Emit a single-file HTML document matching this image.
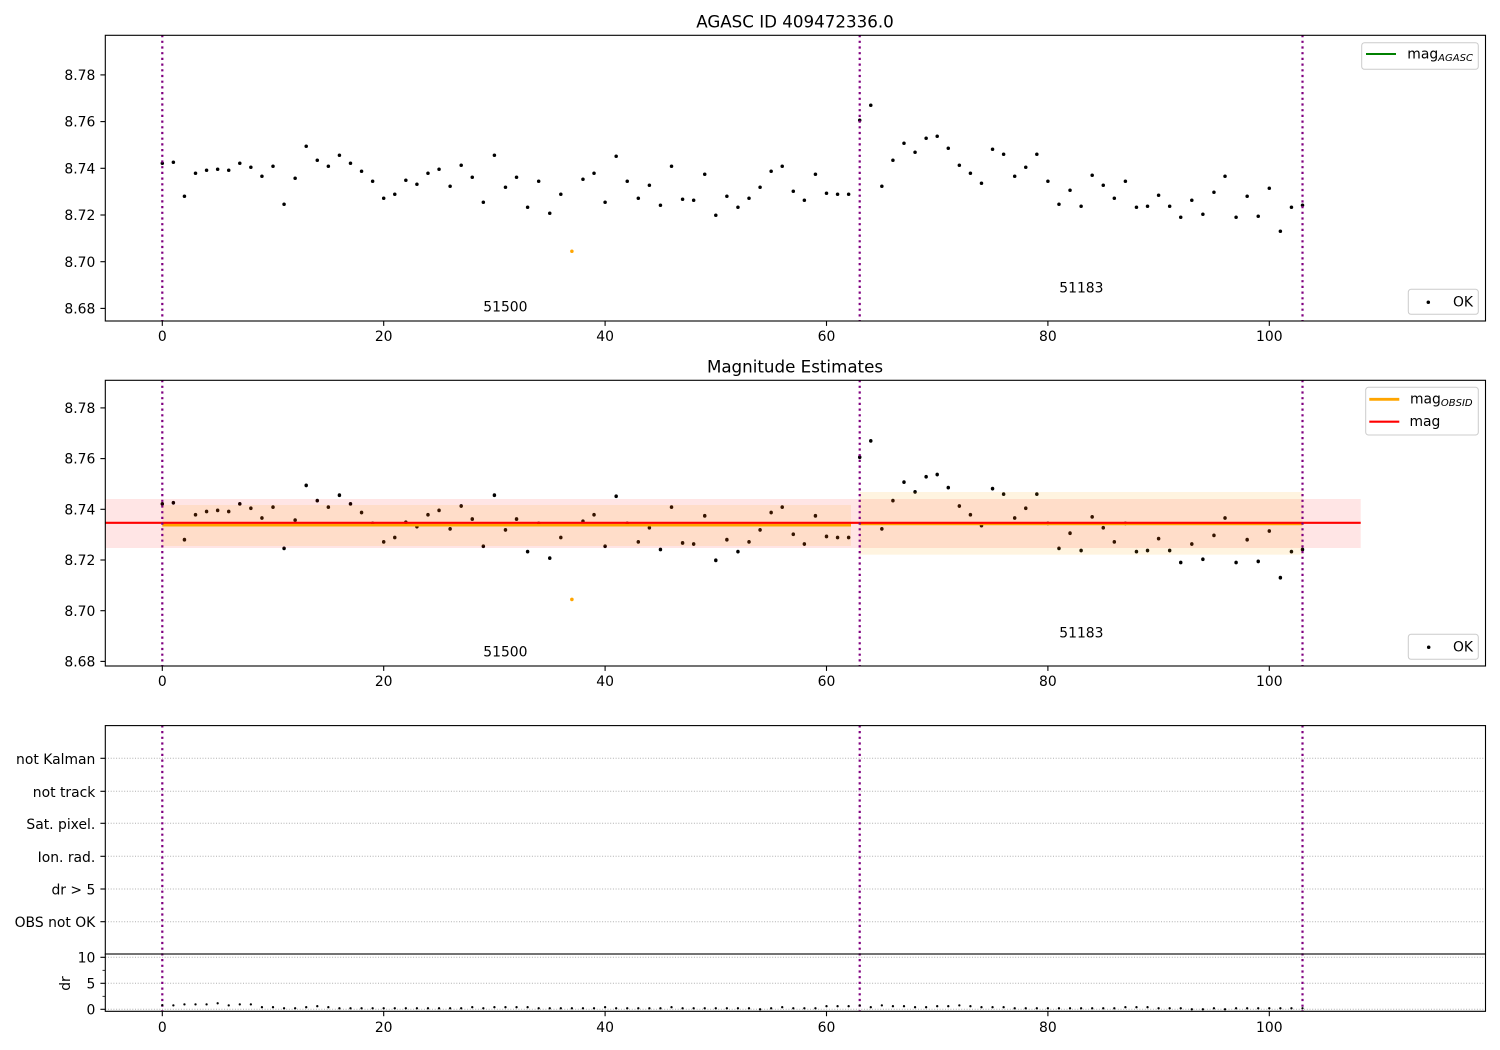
<!DOCTYPE html>
<html>
<head>
<meta charset="utf-8">
<style>
html,body{margin:0;padding:0;background:#fff;}
svg{display:block;}
text{font-family:"DejaVu Sans","Liberation Sans",sans-serif;fill:#000;}
.t{font-size:13.9px;}
.r{text-anchor:end;}
.m{text-anchor:middle;}
</style>
</head>
<body>
<svg width="1500" height="1050" viewBox="0 0 1500 1050" xmlns="http://www.w3.org/2000/svg">
<rect x="0" y="0" width="1500" height="1050" fill="#fff"/>
<defs>
<g id="d1" fill="#000">
<circle cx="162.3" cy="163.3" r="1.75"/><circle cx="173.37" cy="162.3" r="1.75"/><circle cx="184.44" cy="196.3" r="1.75"/><circle cx="195.51" cy="173.3" r="1.75"/><circle cx="206.58" cy="170.3" r="1.75"/><circle cx="217.65" cy="169.3" r="1.75"/><circle cx="228.72" cy="170.3" r="1.75"/><circle cx="239.79" cy="163.3" r="1.75"/><circle cx="250.86" cy="167.3" r="1.75"/><circle cx="261.93" cy="176.3" r="1.75"/>
<circle cx="273.0" cy="166.3" r="1.75"/><circle cx="284.07" cy="204.3" r="1.75"/><circle cx="295.14" cy="178.3" r="1.75"/><circle cx="306.21" cy="146.3" r="1.75"/><circle cx="317.28" cy="160.3" r="1.75"/><circle cx="328.35" cy="166.3" r="1.75"/><circle cx="339.42" cy="155.3" r="1.75"/><circle cx="350.49" cy="163.3" r="1.75"/><circle cx="361.56" cy="171.3" r="1.75"/><circle cx="372.63" cy="181.3" r="1.75"/>
<circle cx="383.7" cy="198.3" r="1.75"/><circle cx="394.77" cy="194.3" r="1.75"/><circle cx="405.84" cy="180.3" r="1.75"/><circle cx="416.91" cy="184.3" r="1.75"/><circle cx="427.98" cy="173.3" r="1.75"/><circle cx="439.05" cy="169.3" r="1.75"/><circle cx="450.12" cy="186.3" r="1.75"/><circle cx="461.19" cy="165.3" r="1.75"/><circle cx="472.26" cy="177.3" r="1.75"/><circle cx="483.33" cy="202.3" r="1.75"/>
<circle cx="494.4" cy="155.3" r="1.75"/><circle cx="505.47" cy="187.3" r="1.75"/><circle cx="516.54" cy="177.3" r="1.75"/><circle cx="527.61" cy="207.3" r="1.75"/><circle cx="538.68" cy="181.3" r="1.75"/><circle cx="549.75" cy="213.3" r="1.75"/><circle cx="560.82" cy="194.3" r="1.75"/><circle cx="582.96" cy="179.3" r="1.75"/><circle cx="594.03" cy="173.3" r="1.75"/>
<circle cx="605.1" cy="202.3" r="1.75"/><circle cx="616.17" cy="156.3" r="1.75"/><circle cx="627.24" cy="181.3" r="1.75"/><circle cx="638.31" cy="198.3" r="1.75"/><circle cx="649.38" cy="185.3" r="1.75"/><circle cx="660.45" cy="205.3" r="1.75"/><circle cx="671.52" cy="166.3" r="1.75"/><circle cx="682.59" cy="199.3" r="1.75"/><circle cx="693.66" cy="200.3" r="1.75"/><circle cx="704.73" cy="174.3" r="1.75"/>
<circle cx="715.8" cy="215.3" r="1.75"/><circle cx="726.87" cy="196.3" r="1.75"/><circle cx="737.94" cy="207.3" r="1.75"/><circle cx="749.01" cy="198.3" r="1.75"/><circle cx="760.08" cy="187.3" r="1.75"/><circle cx="771.15" cy="171.3" r="1.75"/><circle cx="782.22" cy="166.3" r="1.75"/><circle cx="793.29" cy="191.3" r="1.75"/><circle cx="804.36" cy="200.3" r="1.75"/><circle cx="815.43" cy="174.3" r="1.75"/>
<circle cx="826.5" cy="193.3" r="1.75"/><circle cx="837.57" cy="194.3" r="1.75"/><circle cx="848.64" cy="194.3" r="1.75"/><circle cx="859.71" cy="120.3" r="1.75"/><circle cx="870.78" cy="105.3" r="1.75"/><circle cx="881.85" cy="186.3" r="1.75"/><circle cx="892.92" cy="160.3" r="1.75"/><circle cx="903.99" cy="143.3" r="1.75"/><circle cx="915.06" cy="152.3" r="1.75"/><circle cx="926.13" cy="138.3" r="1.75"/>
<circle cx="937.2" cy="136.3" r="1.75"/><circle cx="948.27" cy="148.3" r="1.75"/><circle cx="959.34" cy="165.3" r="1.75"/><circle cx="970.41" cy="173.3" r="1.75"/><circle cx="981.48" cy="183.3" r="1.75"/><circle cx="992.55" cy="149.3" r="1.75"/><circle cx="1003.62" cy="154.3" r="1.75"/><circle cx="1014.69" cy="176.3" r="1.75"/><circle cx="1025.76" cy="167.3" r="1.75"/><circle cx="1036.83" cy="154.3" r="1.75"/>
<circle cx="1047.9" cy="181.3" r="1.75"/><circle cx="1058.97" cy="204.3" r="1.75"/><circle cx="1070.04" cy="190.3" r="1.75"/><circle cx="1081.11" cy="206.3" r="1.75"/><circle cx="1092.18" cy="175.3" r="1.75"/><circle cx="1103.25" cy="185.3" r="1.75"/><circle cx="1114.32" cy="198.3" r="1.75"/><circle cx="1125.39" cy="181.3" r="1.75"/><circle cx="1136.46" cy="207.3" r="1.75"/><circle cx="1147.53" cy="206.3" r="1.75"/>
<circle cx="1158.6" cy="195.3" r="1.75"/><circle cx="1169.67" cy="206.3" r="1.75"/><circle cx="1180.74" cy="217.3" r="1.75"/><circle cx="1191.81" cy="200.3" r="1.75"/><circle cx="1202.88" cy="214.3" r="1.75"/><circle cx="1213.95" cy="192.3" r="1.75"/><circle cx="1225.02" cy="176.3" r="1.75"/><circle cx="1236.09" cy="217.3" r="1.75"/><circle cx="1247.16" cy="196.3" r="1.75"/><circle cx="1258.23" cy="216.3" r="1.75"/>
<circle cx="1269.3" cy="188.3" r="1.75"/><circle cx="1280.37" cy="231.3" r="1.75"/><circle cx="1291.44" cy="207.3" r="1.75"/><circle cx="1302.51" cy="205.3" r="1.75"/>
</g>
</defs>

<!-- ============ PANEL 1 ============ -->
<use href="#d1"/>
<circle cx="571.89" cy="251.3" r="1.75" fill="#ffa500"/>
<g stroke="#800080" stroke-width="2.2" stroke-dasharray="2.2 3.5">
<line x1="162.3" y1="35" x2="162.3" y2="321"/>
<line x1="859.71" y1="35" x2="859.71" y2="321"/>
<line x1="1302.51" y1="35" x2="1302.51" y2="321"/>
</g>
<rect x="105.3" y="35.3" width="1380.2" height="285.7" fill="none" stroke="#000" stroke-width="1.1"/>
<g stroke="#000" stroke-width="1.1">
<line x1="100.4" y1="74.9" x2="105.3" y2="74.9"/>
<line x1="100.4" y1="121.6" x2="105.3" y2="121.6"/>
<line x1="100.4" y1="168.3" x2="105.3" y2="168.3"/>
<line x1="100.4" y1="215" x2="105.3" y2="215"/>
<line x1="100.4" y1="261.7" x2="105.3" y2="261.7"/>
<line x1="100.4" y1="308.4" x2="105.3" y2="308.4"/>
<line x1="162.3" y1="321" x2="162.3" y2="325.9"/>
<line x1="383.7" y1="321" x2="383.7" y2="325.9"/>
<line x1="605.1" y1="321" x2="605.1" y2="325.9"/>
<line x1="826.5" y1="321" x2="826.5" y2="325.9"/>
<line x1="1047.9" y1="321" x2="1047.9" y2="325.9"/>
<line x1="1269.3" y1="321" x2="1269.3" y2="325.9"/>
</g>
<g class="t r">
<text x="95.3" y="80">8.78</text>
<text x="95.3" y="126.7">8.76</text>
<text x="95.3" y="173.4">8.74</text>
<text x="95.3" y="220.1">8.72</text>
<text x="95.3" y="266.8">8.70</text>
<text x="95.3" y="313.5">8.68</text>
</g>
<g class="t m">
<text x="162.3" y="340.8">0</text>
<text x="383.7" y="340.8">20</text>
<text x="605.1" y="340.8">40</text>
<text x="826.5" y="340.8">60</text>
<text x="1047.9" y="340.8">80</text>
<text x="1269.3" y="340.8">100</text>
</g>
<text x="795" y="27.3" class="m" style="font-size:16.7px">AGASC ID 409472336.0</text>
<text x="483.3" y="311.7" class="t">51500</text>
<text x="1059.3" y="292.3" class="t">51183</text>
<!-- legend 1 -->
<rect x="1361.7" y="42.7" width="116.6" height="26.6" rx="2.8" fill="#fff" fill-opacity="0.8" stroke="#cccccc" stroke-width="1"/>
<line x1="1366" y1="54" x2="1396" y2="54" stroke="#008000" stroke-width="2.1"/>
<text x="1407.3" y="58.4" class="t">mag<tspan dy="2.6" style="font-size:10px;font-style:italic">AGASC</tspan></text>
<rect x="1408.3" y="289.3" width="70" height="25" rx="2.8" fill="#fff" fill-opacity="0.8" stroke="#cccccc" stroke-width="1"/>
<circle cx="1428.3" cy="302.3" r="1.75" fill="#000"/>
<text x="1453" y="306.3" class="t">OK</text>

<!-- ============ PANEL 2 ============ -->
<use href="#d1" transform="matrix(1 0 0 1.0857 0 326.58)"/>
<circle cx="571.89" cy="599.4" r="1.8" fill="#ffa500"/>
<rect x="105.3" y="499" width="1255.4" height="49" fill="#ff0000" fill-opacity="0.1"/>
<rect x="162.3" y="505" width="688.7" height="41" fill="#ffa500" fill-opacity="0.12"/>
<rect x="859.71" y="492" width="442.8" height="62.7" fill="#ffa500" fill-opacity="0.12"/>
<line x1="162.3" y1="525.1" x2="851" y2="525.1" stroke="#ffa500" stroke-width="2.8"/>
<line x1="859.71" y1="523.9" x2="1302.51" y2="523.9" stroke="#ffa500" stroke-width="2.8"/>
<line x1="105.3" y1="522.8" x2="1360.7" y2="522.8" stroke="#ff0000" stroke-width="2.1"/>
<g stroke="#800080" stroke-width="2.2" stroke-dasharray="2.2 3.5">
<line x1="162.3" y1="380" x2="162.3" y2="666"/>
<line x1="859.71" y1="380" x2="859.71" y2="666"/>
<line x1="1302.51" y1="380" x2="1302.51" y2="666"/>
</g>
<rect x="105.3" y="380.3" width="1380.2" height="285.7" fill="none" stroke="#000" stroke-width="1.1"/>
<g stroke="#000" stroke-width="1.1">
<line x1="100.4" y1="407.9" x2="105.3" y2="407.9"/>
<line x1="100.4" y1="458.6" x2="105.3" y2="458.6"/>
<line x1="100.4" y1="509.3" x2="105.3" y2="509.3"/>
<line x1="100.4" y1="560" x2="105.3" y2="560"/>
<line x1="100.4" y1="610.7" x2="105.3" y2="610.7"/>
<line x1="100.4" y1="661.4" x2="105.3" y2="661.4"/>
<line x1="162.3" y1="666" x2="162.3" y2="670.9"/>
<line x1="383.7" y1="666" x2="383.7" y2="670.9"/>
<line x1="605.1" y1="666" x2="605.1" y2="670.9"/>
<line x1="826.5" y1="666" x2="826.5" y2="670.9"/>
<line x1="1047.9" y1="666" x2="1047.9" y2="670.9"/>
<line x1="1269.3" y1="666" x2="1269.3" y2="670.9"/>
</g>
<g class="t r">
<text x="95.3" y="413">8.78</text>
<text x="95.3" y="463.7">8.76</text>
<text x="95.3" y="514.4">8.74</text>
<text x="95.3" y="565.1">8.72</text>
<text x="95.3" y="615.8">8.70</text>
<text x="95.3" y="666.5">8.68</text>
</g>
<g class="t m">
<text x="162.3" y="685.8">0</text>
<text x="383.7" y="685.8">20</text>
<text x="605.1" y="685.8">40</text>
<text x="826.5" y="685.8">60</text>
<text x="1047.9" y="685.8">80</text>
<text x="1269.3" y="685.8">100</text>
</g>
<text x="795" y="372.3" class="m" style="font-size:16.7px">Magnitude Estimates</text>
<text x="483.3" y="656.7" class="t">51500</text>
<text x="1059.3" y="637.3" class="t">51183</text>
<!-- legend 2 -->
<rect x="1365.7" y="387.3" width="112.6" height="47.7" rx="2.8" fill="#fff" fill-opacity="0.8" stroke="#cccccc" stroke-width="1"/>
<line x1="1369.3" y1="399.3" x2="1399.3" y2="399.3" stroke="#ffa500" stroke-width="2.8"/>
<text x="1410" y="403.5" class="t">mag<tspan dy="2.6" style="font-size:10px;font-style:italic">OBSID</tspan></text>
<line x1="1369.3" y1="421.7" x2="1399.3" y2="421.7" stroke="#ff0000" stroke-width="2.1"/>
<text x="1409.5" y="426" class="t">mag</text>
<rect x="1408.3" y="634.3" width="70" height="25" rx="2.8" fill="#fff" fill-opacity="0.8" stroke="#cccccc" stroke-width="1"/>
<circle cx="1428.7" cy="647.2" r="1.75" fill="#000"/>
<text x="1453" y="651.3" class="t">OK</text>

<!-- ============ PANEL 3 ============ -->
<g stroke="#b0b0b0" stroke-width="1" stroke-dasharray="1 1.7">
<line x1="105.3" y1="758.3" x2="1485.5" y2="758.3"/>
<line x1="105.3" y1="791.3" x2="1485.5" y2="791.3"/>
<line x1="105.3" y1="823.3" x2="1485.5" y2="823.3"/>
<line x1="105.3" y1="856.3" x2="1485.5" y2="856.3"/>
<line x1="105.3" y1="889" x2="1485.5" y2="889"/>
<line x1="105.3" y1="921.7" x2="1485.5" y2="921.7"/>
<line x1="105.3" y1="957.3" x2="1485.5" y2="957.3"/>
<line x1="105.3" y1="983.3" x2="1485.5" y2="983.3"/>
<line x1="105.3" y1="1009.3" x2="1485.5" y2="1009.3"/>
</g>
<g stroke="#800080" stroke-width="2.2" stroke-dasharray="2.2 3.5">
<line x1="162.3" y1="725.3" x2="162.3" y2="1011"/>
<line x1="859.71" y1="725.3" x2="859.71" y2="1011"/>
<line x1="1302.51" y1="725.3" x2="1302.51" y2="1011"/>
</g>
<rect x="105.3" y="725.6" width="1380.2" height="228.4" fill="none" stroke="#000" stroke-width="1.1"/>
<g stroke="#000" stroke-width="1.1">
<line x1="100.4" y1="758.3" x2="105.3" y2="758.3"/>
<line x1="100.4" y1="791.3" x2="105.3" y2="791.3"/>
<line x1="100.4" y1="823.3" x2="105.3" y2="823.3"/>
<line x1="100.4" y1="856.3" x2="105.3" y2="856.3"/>
<line x1="100.4" y1="889" x2="105.3" y2="889"/>
<line x1="100.4" y1="921.7" x2="105.3" y2="921.7"/>
</g>
<g class="t r">
<text x="95.3" y="763.9">not Kalman</text>
<text x="95.3" y="796.9">not track</text>
<text x="95.3" y="828.9">Sat. pixel.</text>
<text x="95.3" y="861.9">Ion. rad.</text>
<text x="95.3" y="894.4">dr &gt; 5</text>
<text x="95.3" y="927.2">OBS not OK</text>
</g>

<!-- ============ DR PANEL ============ -->
<g fill="#000">
<circle cx="162.3" cy="1005.1" r="1.15"/><circle cx="173.37" cy="1005.4" r="1.15"/><circle cx="184.44" cy="1004.4" r="1.15"/><circle cx="195.51" cy="1004.4" r="1.15"/><circle cx="206.58" cy="1004.4" r="1.15"/><circle cx="217.65" cy="1003.3" r="1.15"/><circle cx="228.72" cy="1005.4" r="1.15"/><circle cx="239.79" cy="1004.4" r="1.15"/><circle cx="250.86" cy="1004.4" r="1.15"/><circle cx="261.93" cy="1007.2" r="1.15"/>
<circle cx="273.0" cy="1007.2" r="1.15"/><circle cx="284.07" cy="1008.3" r="1.15"/><circle cx="295.14" cy="1008.3" r="1.15"/><circle cx="306.21" cy="1007.2" r="1.15"/><circle cx="317.28" cy="1006.2" r="1.15"/><circle cx="328.35" cy="1007.2" r="1.15"/><circle cx="339.42" cy="1008.3" r="1.15"/><circle cx="350.49" cy="1008.3" r="1.15"/><circle cx="361.56" cy="1008.3" r="1.15"/><circle cx="372.63" cy="1008.3" r="1.15"/>
<circle cx="383.7" cy="1008.3" r="1.15"/><circle cx="394.77" cy="1008.3" r="1.15"/><circle cx="405.84" cy="1008.3" r="1.15"/><circle cx="416.91" cy="1008.3" r="1.15"/><circle cx="427.98" cy="1008.3" r="1.15"/><circle cx="439.05" cy="1008.3" r="1.15"/><circle cx="450.12" cy="1008.3" r="1.15"/><circle cx="461.19" cy="1008.3" r="1.15"/><circle cx="472.26" cy="1007.2" r="1.15"/><circle cx="483.33" cy="1008.3" r="1.15"/>
<circle cx="494.4" cy="1007.2" r="1.15"/><circle cx="505.47" cy="1007.2" r="1.15"/><circle cx="516.54" cy="1007.2" r="1.15"/><circle cx="527.61" cy="1007.2" r="1.15"/><circle cx="538.68" cy="1008.3" r="1.15"/><circle cx="549.75" cy="1008.3" r="1.15"/><circle cx="560.82" cy="1008.3" r="1.15"/><circle cx="571.89" cy="1008.3" r="1.15"/><circle cx="582.96" cy="1008.3" r="1.15"/><circle cx="594.03" cy="1008.3" r="1.15"/>
<circle cx="605.1" cy="1007.2" r="1.15"/><circle cx="616.17" cy="1008.3" r="1.15"/><circle cx="627.24" cy="1008.3" r="1.15"/><circle cx="638.31" cy="1008.3" r="1.15"/><circle cx="649.38" cy="1008.3" r="1.15"/><circle cx="660.45" cy="1008.3" r="1.15"/><circle cx="671.52" cy="1007.2" r="1.15"/><circle cx="682.59" cy="1008.3" r="1.15"/><circle cx="693.66" cy="1008.3" r="1.15"/><circle cx="704.73" cy="1008.3" r="1.15"/>
<circle cx="715.8" cy="1008.3" r="1.15"/><circle cx="726.87" cy="1008.3" r="1.15"/><circle cx="737.94" cy="1008.3" r="1.15"/><circle cx="749.01" cy="1008.3" r="1.15"/><circle cx="760.08" cy="1009.3" r="1.15"/><circle cx="771.15" cy="1008.3" r="1.15"/><circle cx="782.22" cy="1007.2" r="1.15"/><circle cx="793.29" cy="1008.3" r="1.15"/><circle cx="804.36" cy="1008.3" r="1.15"/><circle cx="815.43" cy="1008.3" r="1.15"/>
<circle cx="826.5" cy="1006.2" r="1.15"/><circle cx="837.57" cy="1006.2" r="1.15"/><circle cx="848.64" cy="1006.2" r="1.15"/><circle cx="859.71" cy="1005.4" r="1.15"/><circle cx="870.78" cy="1007.2" r="1.15"/><circle cx="881.85" cy="1005.4" r="1.15"/><circle cx="892.92" cy="1006.2" r="1.15"/><circle cx="903.99" cy="1006.2" r="1.15"/><circle cx="915.06" cy="1007.2" r="1.15"/><circle cx="926.13" cy="1007.2" r="1.15"/>
<circle cx="937.2" cy="1006.2" r="1.15"/><circle cx="948.27" cy="1006.2" r="1.15"/><circle cx="959.34" cy="1005.4" r="1.15"/><circle cx="970.41" cy="1006.2" r="1.15"/><circle cx="981.48" cy="1007.2" r="1.15"/><circle cx="992.55" cy="1007.2" r="1.15"/><circle cx="1003.62" cy="1007.2" r="1.15"/><circle cx="1014.69" cy="1008.3" r="1.15"/><circle cx="1025.76" cy="1008.3" r="1.15"/><circle cx="1036.83" cy="1008.3" r="1.15"/>
<circle cx="1047.9" cy="1008.3" r="1.15"/><circle cx="1058.97" cy="1008.3" r="1.15"/><circle cx="1070.04" cy="1008.3" r="1.15"/><circle cx="1081.11" cy="1008.3" r="1.15"/><circle cx="1092.18" cy="1008.3" r="1.15"/><circle cx="1103.25" cy="1008.3" r="1.15"/><circle cx="1114.32" cy="1008.3" r="1.15"/><circle cx="1125.39" cy="1007.2" r="1.15"/><circle cx="1136.46" cy="1007.2" r="1.15"/><circle cx="1147.53" cy="1007.2" r="1.15"/>
<circle cx="1158.6" cy="1008.3" r="1.15"/><circle cx="1169.67" cy="1008.3" r="1.15"/><circle cx="1180.74" cy="1008.3" r="1.15"/><circle cx="1191.81" cy="1009.3" r="1.15"/><circle cx="1202.88" cy="1009.3" r="1.15"/><circle cx="1213.95" cy="1008.3" r="1.15"/><circle cx="1225.02" cy="1009.3" r="1.15"/><circle cx="1236.09" cy="1008.3" r="1.15"/><circle cx="1247.16" cy="1008.3" r="1.15"/><circle cx="1258.23" cy="1008.3" r="1.15"/>
<circle cx="1269.3" cy="1008.3" r="1.15"/><circle cx="1280.37" cy="1008.3" r="1.15"/><circle cx="1291.44" cy="1008.3" r="1.15"/><circle cx="1302.51" cy="1008.3" r="1.15"/>
</g>
<g stroke="#000" stroke-width="1.1">
<line x1="105.3" y1="954" x2="105.3" y2="1011.3"/>
<line x1="1485.5" y1="954" x2="1485.5" y2="1011.3"/>
<line x1="104.8" y1="1011.3" x2="1486" y2="1011.3"/>
<line x1="104.8" y1="954" x2="1486" y2="954"/>
<line x1="100.4" y1="957.3" x2="105.3" y2="957.3"/>
<line x1="100.4" y1="983.3" x2="105.3" y2="983.3"/>
<line x1="100.4" y1="1009.3" x2="105.3" y2="1009.3"/>
<line x1="102.5" y1="970.3" x2="105.3" y2="970.3" stroke-width="0.8"/>
<line x1="102.5" y1="996.3" x2="105.3" y2="996.3" stroke-width="0.8"/>
<line x1="162.3" y1="1011.3" x2="162.3" y2="1016.2"/>
<line x1="383.7" y1="1011.3" x2="383.7" y2="1016.2"/>
<line x1="605.1" y1="1011.3" x2="605.1" y2="1016.2"/>
<line x1="826.5" y1="1011.3" x2="826.5" y2="1016.2"/>
<line x1="1047.9" y1="1011.3" x2="1047.9" y2="1016.2"/>
<line x1="1269.3" y1="1011.3" x2="1269.3" y2="1016.2"/>
</g>
<g class="t r">
<text x="95.3" y="962.4">10</text>
<text x="95.3" y="988.4">5</text>
<text x="95.3" y="1014.4">0</text>
</g>
<text class="t m" transform="translate(70,983.5) rotate(-90)">dr</text>
<g class="t m">
<text x="162.3" y="1032">0</text>
<text x="383.7" y="1032">20</text>
<text x="605.1" y="1032">40</text>
<text x="826.5" y="1032">60</text>
<text x="1047.9" y="1032">80</text>
<text x="1269.3" y="1032">100</text>
</g>
</svg>
</body>
</html>
